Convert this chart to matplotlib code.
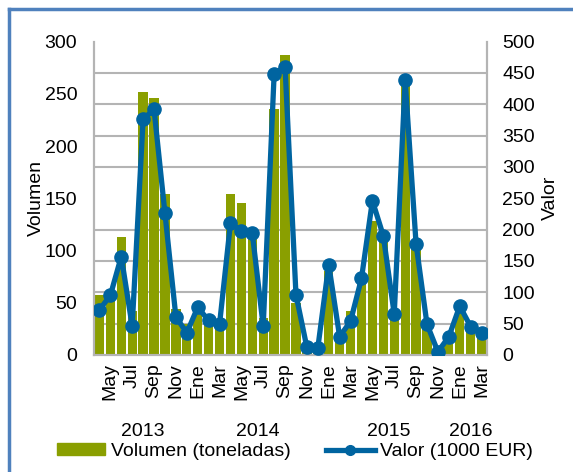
import matplotlib
matplotlib.use('Agg')
import matplotlib.pyplot as plt
import matplotlib.transforms as mtransforms
from matplotlib.lines import Line2D
from matplotlib.patches import Patch
import numpy as np

plt.rcParams['font.family'] = ['Liberation Sans', 'DejaVu Sans']
plt.rcParams['font.size'] = 14

# monthly data, Apr 2013 - Mar 2016
months = ['Abr', 'May', 'Jun', 'Jul', 'Ago', 'Sep', 'Oct', 'Nov', 'Dic',
          'Ene', 'Feb', 'Mar', 'Abr', 'May', 'Jun', 'Jul', 'Ago', 'Sep', 'Oct', 'Nov', 'Dic',
          'Ene', 'Feb', 'Mar', 'Abr', 'May', 'Jun', 'Jul', 'Ago', 'Sep', 'Oct', 'Nov', 'Dic',
          'Ene', 'Feb', 'Mar']
years = [2013] * 9 + [2014] * 12 + [2015] * 12 + [2016] * 3
volumen = [57, 55, 113, 42, 252, 246, 154, 44, 30,
           41, 30, 27, 154, 145, 115, 35, 235, 287, 50, 5, 5,
           80, 20, 42, 70, 128, 115, 37, 263, 107, 30, 2, 17,
           40, 30, 21]
valor = [72, 95, 157, 46, 376, 392, 226, 61, 35,
         76, 55, 49, 210, 198, 194, 46, 448, 460, 96, 12, 11,
         144, 29, 54, 122, 246, 190, 65, 438, 177, 49, 5, 29,
         78, 45, 35]

GREEN = '#8A9F00'
BLUE = '#0064A0'
GRID = '#B4B4B4'

fig = plt.figure(figsize=(5.73, 4.72), dpi=100)
ax = fig.add_axes([0.164, 0.248, 0.686, 0.664])
ax2 = ax.twinx()

x = np.arange(len(volumen))
ax.bar(x, volumen, width=0.85, color=GREEN, zorder=2)
ax2.plot(x, valor, color=BLUE, lw=3.8, marker='o', markersize=9.5, zorder=3)

ax.set_xlim(-0.5, len(x) - 0.5)
ax.set_ylim(0, 300)
ax2.set_ylim(0, 500)
ax.set_yticks(np.arange(0, 301, 50))
ax2.set_yticks(np.arange(0, 501, 50))
# gridlines follow the right axis (every 50 of 500 -> every 30 of 300)
ax.set_yticks(np.arange(0, 301, 30), minor=True)
ax.grid(which='minor', axis='y', color=GRID, lw=1.5, zorder=0)
ax.set_axisbelow(True)

ax.set_xticks(x[1::2])
ax.set_xticklabels(months[1::2], rotation=90)
ax.tick_params(axis='x', length=0, pad=6)
ax.tick_params(axis='y', which='both', length=0, pad=12)
ax2.tick_params(axis='y', length=0, pad=11)

for a in (ax, ax2):
    for s in a.spines.values():
        s.set_color(GRID)
        s.set_linewidth(1.5)
    a.spines['top'].set_visible(False)

ax.set_ylabel('Volumen', labelpad=0)
ax2.set_ylabel('Valor', labelpad=5)

# year labels centred under each group of months
trans = mtransforms.blended_transform_factory(ax.transData, ax.transAxes)
yrs = np.array(years)
for yr in sorted(set(years)):
    idx = np.where(yrs == yr)[0]
    ax.text(idx.mean(), -0.245, str(yr), transform=trans, ha='center', va='center')

handles = [Patch(color=GREEN),
           Line2D([], [], color=BLUE, lw=3.8, marker='o', markersize=7)]
fig.legend(handles, ['Volumen (toneladas)', 'Valor (1000 EUR)'], loc='center',
           bbox_to_anchor=(0.515, 0.043), ncol=2, frameon=False,
           handlelength=2.5, handleheight=0.55, columnspacing=1.8, handletextpad=0.3)

# outer chart border (left and top edges visible)
fig.add_artist(Line2D([0.016, 0.016], [0, 0.981], color='#4F81BD', lw=2.5,
                      transform=fig.transFigure))
fig.add_artist(Line2D([0.016, 1], [0.981, 0.981], color='#4F81BD', lw=2.5,
                      transform=fig.transFigure))

fig.savefig('out.png', dpi=100)
